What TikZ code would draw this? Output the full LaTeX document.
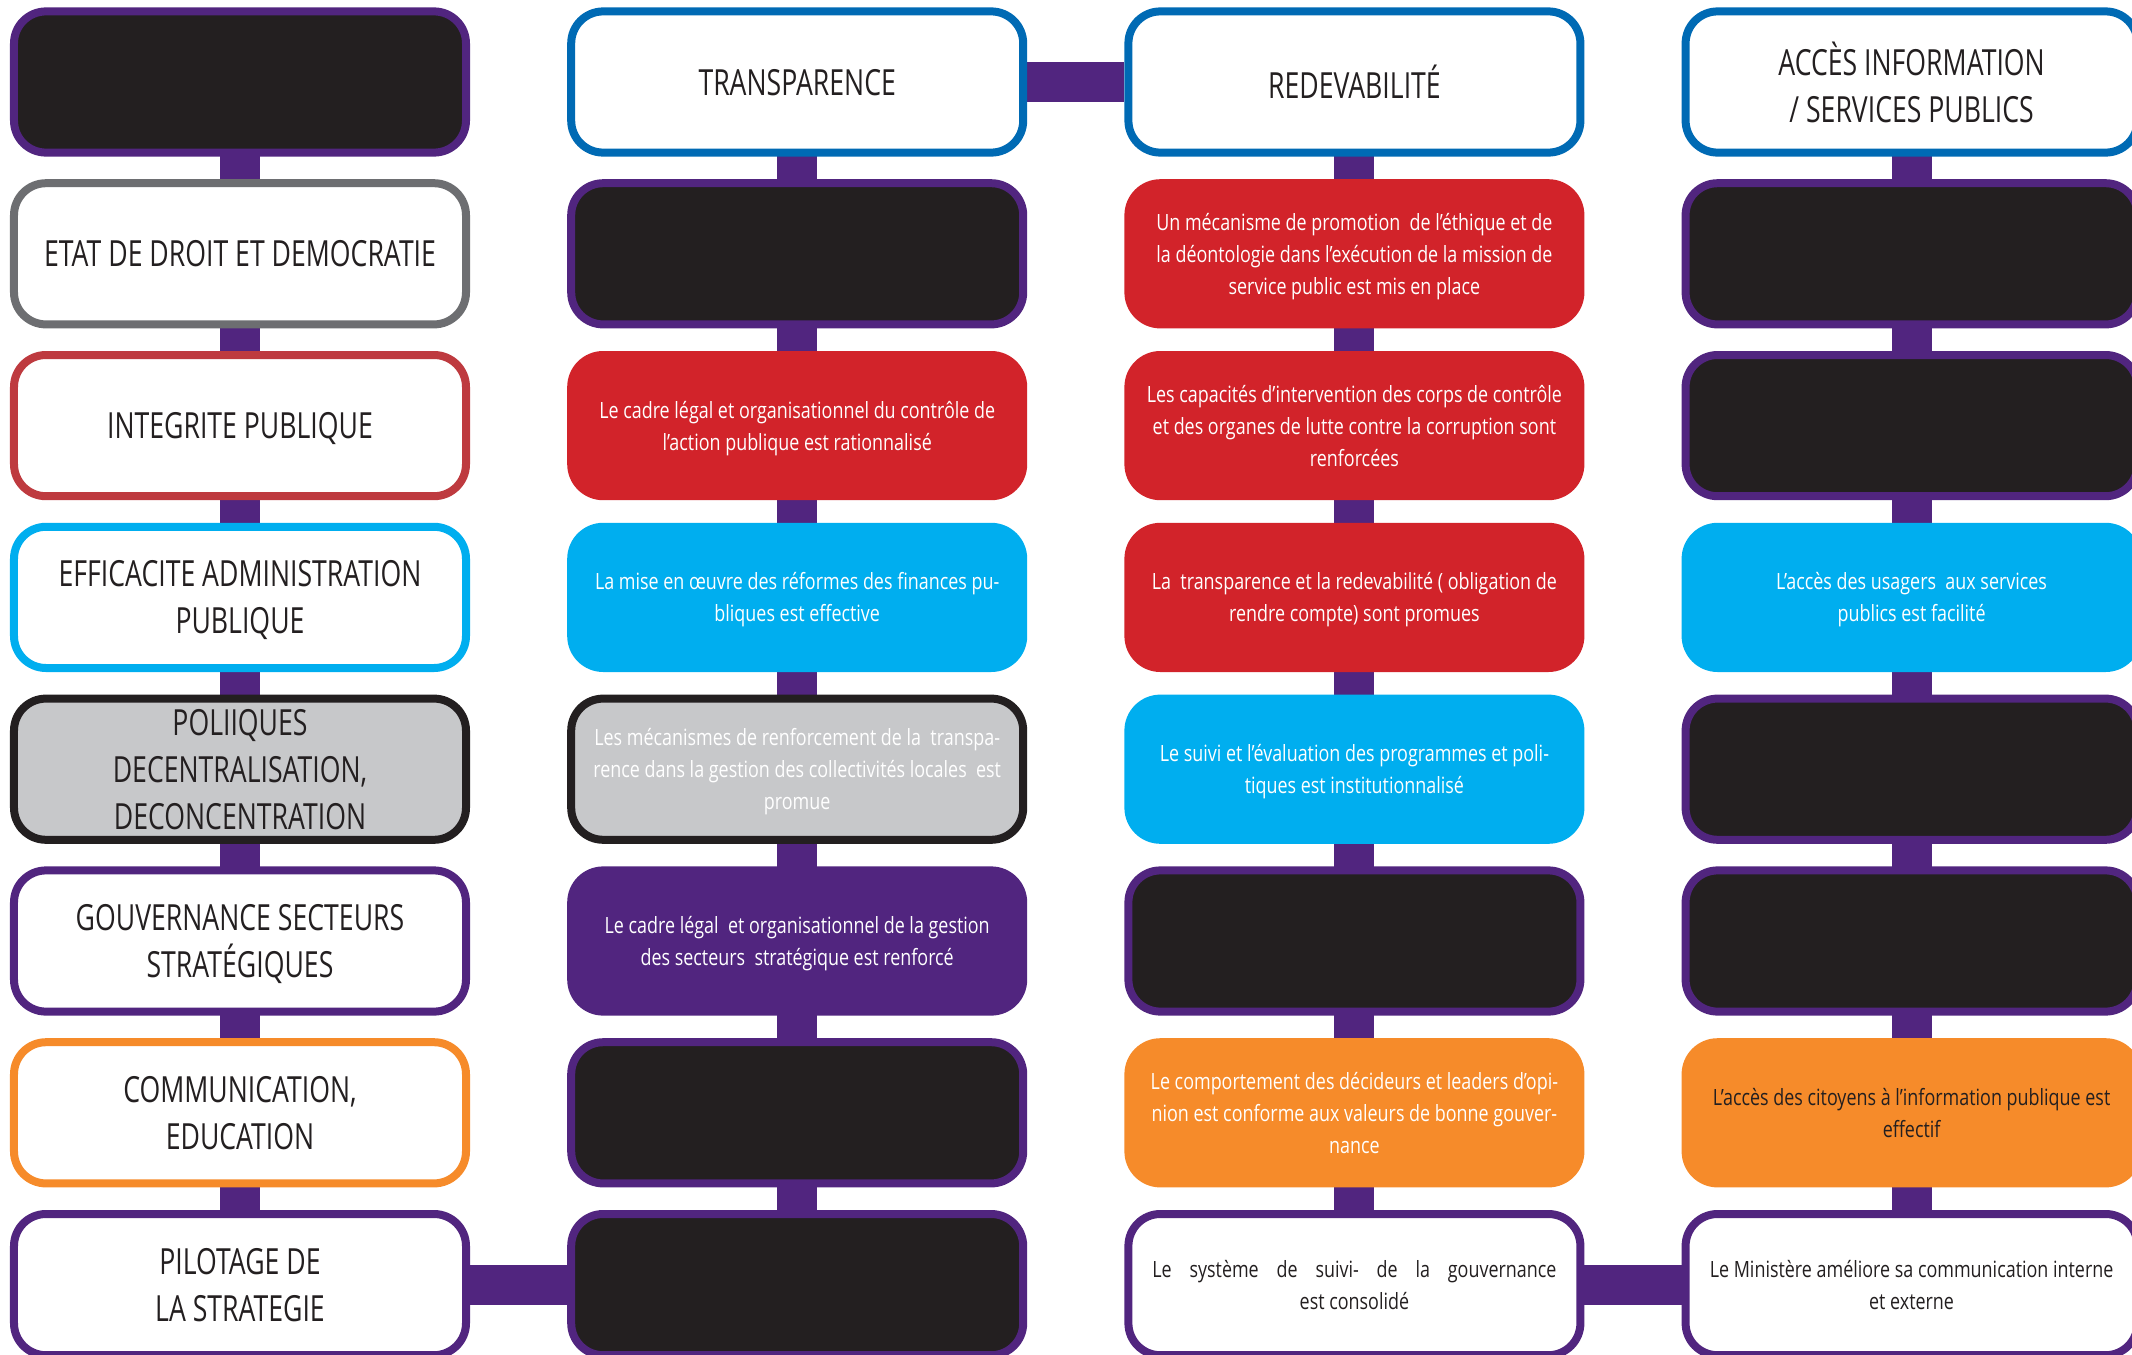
\documentclass[tikz,border=0pt]{standalone}
\usepackage{fontspec}
\newfontfamily\capsfont{Open Sans}[FakeStretch=0.74]
\newfontfamily\bodyfont{Open Sans}[FakeStretch=0.80]
\usetikzlibrary{positioning,backgrounds}
\definecolor{mauve}{HTML}{51257F}
\definecolor{ink}{HTML}{231F20}
\definecolor{hblue}{HTML}{006AB4}
\definecolor{gris}{HTML}{6D6E71}
\definecolor{grisclair}{HTML}{C7C8CA}
\definecolor{rouge}{HTML}{D2232A}
\definecolor{rougebord}{HTML}{BE3A3F}
\definecolor{ciel}{HTML}{00AEEF}
\definecolor{orangec}{HTML}{F68B2A}
\tikzset{cell/.style={rounded corners=16pt,line width=4pt,minimum width=226pt,minimum height=70.6pt,align=center,inner sep=1pt},axe/.style={cell,fill=white,text=ink,text depth=-8pt,font=\capsfont\fontsize{18}{23.5}\selectfont},head/.style={axe,draw=hblue},vide/.style={cell,draw=mauve,fill=ink},res/.style={cell,text=white,text depth=-8pt,font=\bodyfont\fontsize{11.2}{16}\selectfont},resred/.style={res,draw=rouge,fill=rouge},rescyan/.style={res,draw=ciel,fill=ciel},resorange/.style={res,draw=orangec,fill=orangec},reswhite/.style={res,draw=mauve,fill=white,text=ink},bar/.style={line width=20pt,draw=mauve}}

\begin{document}
\begin{tikzpicture}[node distance=11.3pt and 48.6pt]
\useasboundingbox (-120pt,41pt) rectangle (946pt,-636.5pt);
\node[vide] (d1) at (0,0) {};
\node[head,right=of d1] (t1) {TRANSPARENCE};
\node[head,right=of t1] (r1) {REDEVABILITÉ};
\node[head,right=of r1] (a1) {ACCÈS INFORMATION\\/ SERVICES PUBLICS};
\node[axe,draw=gris,below=of d1] (d2) {ETAT DE DROIT ET DEMOCRATIE};
\node[vide,below=of t1] (t2) {};
\node[resred,below=of r1] (r2) {Un mécanisme de promotion\ \ de l’éthique et de\\la déontologie dans l’exécution de la mission de\\service public est mis en place};
\node[vide,below=of a1] (a2) {};
\node[axe,draw=rougebord,below=of d2] (d3) {INTEGRITE PUBLIQUE};
\node[resred,below=of t2] (t3) {Le cadre légal et organisationnel du contrôle de\\l’action publique est rationnalisé};
\node[resred,below=of r2] (r3) {Les capacités d’intervention des corps de contrôle\\et des organes de lutte contre la corruption sont\\renforcées};
\node[vide,below=of a2] (a3) {};
\node[axe,draw=ciel,below=of d3] (d4) {EFFICACITE ADMINISTRATION\\PUBLIQUE};
\node[rescyan,below=of t3] (t4) {La mise en œuvre des réformes des finances pu-\\bliques est effective};
\node[resred,below=of r3] (r4) {La\ \ transparence et la redevabilité ( obligation de\\rendre compte) sont promues};
\node[rescyan,below=of a3] (a4) {L’accès des usagers\ \ aux services\\publics est facilité};
\node[axe,draw=ink,fill=grisclair,below=of d4] (d5) {POLIIQUES\\DECENTRALISATION,\\DECONCENTRATION};
\node[res,draw=ink,fill=grisclair,below=of t4] (t5) {Les mécanismes de renforcement de la\ \ transpa-\\rence dans la gestion des collectivités locales\ \ est\\promue};
\node[rescyan,below=of r4] (r5) {Le suivi et l’évaluation des programmes et poli-\\tiques est institutionnalisé};
\node[vide,below=of a4] (a5) {};
\node[axe,draw=mauve,below=of d5] (d6) {GOUVERNANCE SECTEURS\\STRATÉGIQUES};
\node[res,draw=mauve,fill=mauve,below=of t5] (t6) {Le cadre légal\ \ et organisationnel de la gestion\\des secteurs\ \ stratégique est renforcé};
\node[vide,below=of r5] (r6) {};
\node[vide,below=of a5] (a6) {};
\node[axe,draw=orangec,below=of d6] (d7) {COMMUNICATION,\\EDUCATION};
\node[vide,below=of t6] (t7) {};
\node[resorange,below=of r6] (r7) {Le comportement des décideurs et leaders d’opi-\\nion est conforme aux valeurs de bonne gouver-\\nance};
\node[resorange,text=ink,below=of a6] (a7) {L’accès des citoyens à l’information publique est\\effectif};
\node[axe,draw=mauve,below=of d7] (d8) {PILOTAGE DE\\LA STRATEGIE};
\node[vide,below=of t7] (t8) {};
\node[reswhite,below=of r7] (r8) {\makebox[202pt][s]{Le système de suivi- de la gouvernance}\\est consolidé};
\node[reswhite,below=of a7] (a8) {Le Ministère améliore sa communication interne\\et externe};
\begin{scope}[on background layer]
\draw[bar] (d1.center) -- (d8.center);\draw[bar] (t1.center) -- (t8.center);\draw[bar] (r1.center) -- (r8.center);\draw[bar] (a1.center) -- (a8.center);
\draw[bar] (t1) -- (r1);\draw[bar] (d8) -- (t8);\draw[bar] (r8) -- (a8);
\end{scope}
\end{tikzpicture}
\end{document}
